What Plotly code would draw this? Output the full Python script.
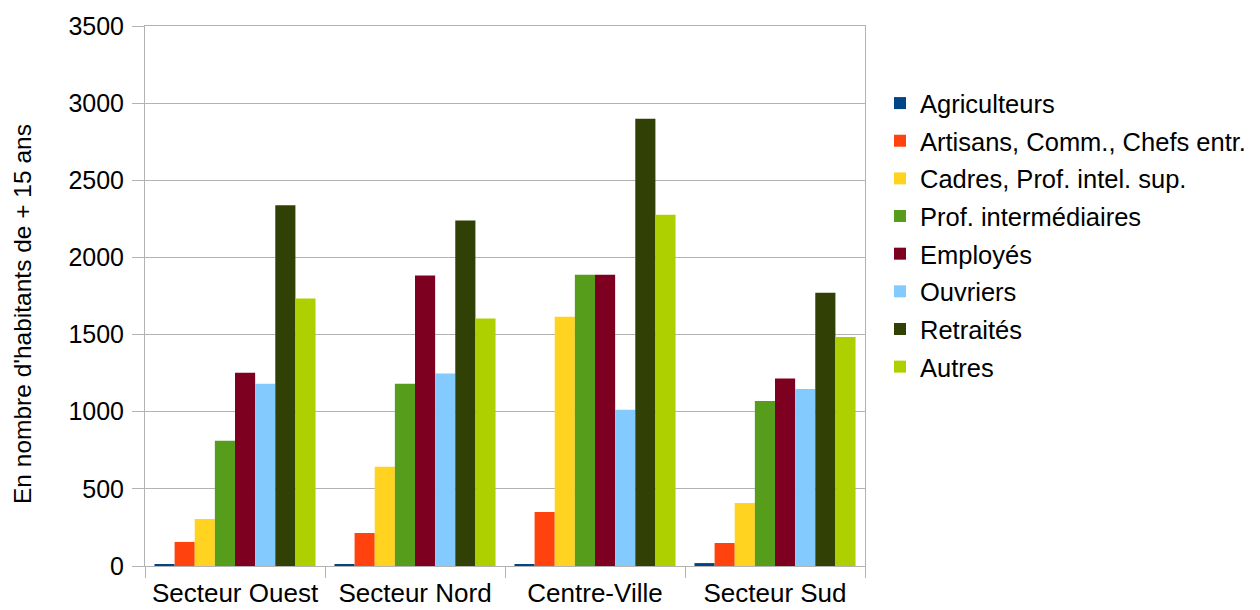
import plotly.graph_objects as go

categories = ["Secteur Ouest", "Secteur Nord", "Centre-Ville", "Secteur Sud"]
series_names = ["Agriculteurs", "Artisans, Comm., Chefs entr.", "Cadres, Prof. intel. sup.",
                "Prof. intermédiaires", "Employés", "Ouvriers", "Retraités", "Autres"]
agriculteurs = [8, 7, 13, 19]
artisans = [156, 214, 350, 149]
cadres = [305, 643, 1615, 409]
prof_inter = [812, 1182, 1888, 1070]
employes = [1253, 1883, 1888, 1215]
ouvriers = [1182, 1247, 1012, 1148]
retraites = [2338, 2240, 2899, 1771]
autres = [1734, 1604, 2277, 1485]
y_ticks = [0, 500, 1000, 1500, 2000, 2500, 3000, 3500]
y_title = "En nombre d'habitants de + 15 ans"

series_values = [agriculteurs, artisans, cadres, prof_inter, employes, ouvriers, retraites, autres]
colors = ["#004586", "#ff420e", "#ffd320", "#579d1c", "#7e0021", "#83caff", "#314004", "#aecf00"]

fig = go.Figure()
for i, (name, vals, col) in enumerate(zip(series_names, series_values, colors)):
    fig.add_trace(go.Bar(x=categories, y=vals, name=name, marker=dict(color=col, line=dict(width=0)),
                         legendgroup=f"g{i}"))

FONT = "Liberation Sans, Arial, sans-serif"
fig.update_layout(
    width=1252, height=602,
    margin=dict(l=137, r=395, t=18, b=44, autoexpand=False),
    paper_bgcolor="white", plot_bgcolor="white",
    barmode="group", bargap=0.105, bargroupgap=0,
    font=dict(family=FONT, size=25, color="#000000"),
    legend=dict(x=(880 - 145) / 720, xanchor="left", y=(566 - 235) / 540, yanchor="middle",
                font=dict(family=FONT, size=25.5, color="#000000"),
                tracegroupgap=1.5, borderwidth=0, bgcolor="rgba(0,0,0,0)"),
    showlegend=True,
    annotations=[dict(text=y_title, textangle=-90, xref="paper", yref="paper",
                      x=(22 - 145) / 720, y=(566 - 314) / 540, xanchor="center", yanchor="middle",
                      showarrow=False, font=dict(family=FONT, size=24.5, color="#000000"))],
)
fig.update_xaxes(
    showline=True, linecolor="#b3b3b3", linewidth=1, mirror=True,
    ticks="outside", tickson="boundaries", ticklen=11, tickcolor="#b3b3b3",
    showgrid=False, tickfont=dict(size=26), tickangle=0, automargin=False,
    ticklabelstandoff=4,
)
fig.update_yaxes(
    range=[0, 3500], tickvals=y_ticks, ticktext=[str(v) for v in y_ticks],
    showline=True, linecolor="#b3b3b3", linewidth=1, mirror=True,
    ticks="outside", ticklen=12, tickcolor="#b3b3b3", ticklabelstandoff=3,
    showgrid=True, gridcolor="#b3b3b3", gridwidth=1, zeroline=False,
    tickfont=dict(size=25), automargin=False,
)
fig.write_html("out.html")
